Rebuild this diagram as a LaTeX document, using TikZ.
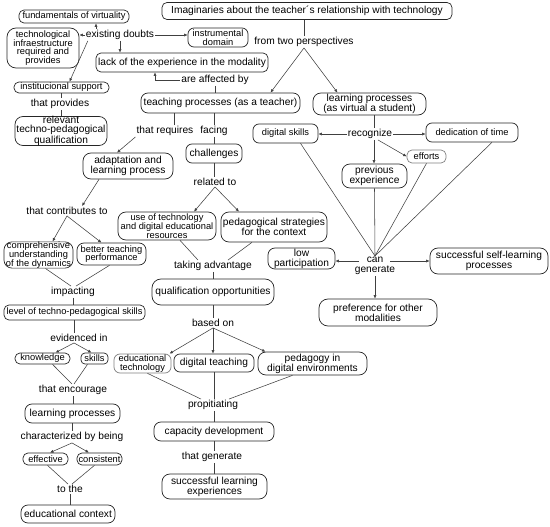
\documentclass[tikz,border=0pt]{standalone}
\usepackage{fontspec}
\setmainfont{Liberation Sans}
\usetikzlibrary{arrows.meta,calc}
\newcommand\fa{\fontsize{10.2}{10}\selectfont}
\newcommand\fb{\fontsize{9.3}{8.8}\selectfont}
\newcommand\fc{\fontsize{10.2}{9}\selectfont}
\begin{document}
\begin{tikzpicture}[x=1pt,y=-1pt,
 box/.style={draw=black!85, line width=0.7pt, rounded corners=5pt, align=center, inner sep=0pt, font=\fa},
 sm/.style={font=\fb},
 bx/.style 2 args={box, minimum width=#1, minimum height=#2},
 lbl/.style={inner sep=1pt, align=center, font=\fa},
 con/.style={draw=black!75, line width=0.55pt},
 arr/.style={con, -{Latex[length=3.5pt,width=3pt]}}]
\useasboundingbox (0,0) rectangle (550,527);
% boxes
\node[bx={110}{13},sm] (fund) at (74,16.5) {fundamentals of virtuality};
\node[bx={290}{17}] (imag) at (307,11) {Imaginaries about the teacher´s relationship with technology};
\node[bx={72}{40},sm,rounded corners=9pt] (tech) at (43,48) {technological\\infraestructure\\required and\\provides};
\node[bx={60}{19},sm,rounded corners=6pt] (instr) at (218,37.5) {instrumental\\domain};
\node[bx={172}{19}] (lack) at (182,62.5) {lack of the experience in the modality};
\node[bx={159}{20},rounded corners=7pt] (teach) at (220.5,103) {teaching processes (as a teacher)};
\node[bx={113}{22},rounded corners=8pt] (learn) at (369.5,104) {learning processes\\(as virtual a student)};
\node[bx={95}{11},sm] (inst) at (61.5,87.5) {institucional support};
\node[bx={92}{28},rounded corners=8pt,font=\fc] (relev) at (61,131) {relevant\\techno-pedagogical\\qualification};
\node[bx={90}{26},rounded corners=8pt] (adapt) at (128,166) {adaptation and\\learning process};
\node[bx={56}{19},rounded corners=6pt] (chal) at (214,153.5) {challenges};
\node[bx={98}{28},sm,rounded corners=8pt] (useoft) at (167,226) {use of technology\\and digital educational\\resources};
\node[bx={106}{30},rounded corners=8pt] (pedstr) at (274,227) {pedagogical strategies\\for the context};
\node[bx={69}{25},sm,rounded corners=8pt] (comp) at (38.5,255) {comprehensive\\understanding\\of the dynamics};
\node[bx={69}{22},sm,rounded corners=7pt] (better) at (111.5,254) {better teaching\\performance};
\node[bx={122}{26},rounded corners=9pt] (qual) at (213,292) {qualification opportunities};
\node[bx={67}{21},rounded corners=7pt] (lowp) at (301.5,258.5) {low\\participation};
\node[bx={118}{26},rounded corners=8pt] (sslp) at (489,261) {successful self-learning\\processes};
\node[bx={118}{27},rounded corners=9pt] (pref) at (378,312.5) {preference for other\\modalities};
\node[bx={65}{19},sm,rounded corners=6pt] (ds) at (285.5,133.5) {digital skills};
\node[bx={92}{19},sm,rounded corners=6pt] (dedic) at (472,132.5) {dedication of time};
\node[bx={39}{13},sm,draw=black!50] (effort) at (426.5,156.5) {efforts};
\node[bx={65}{24},rounded corners=8pt] (prevexp) at (374.5,176) {previous\\experience};
\node[bx={141}{15},sm] (level) at (74.5,312.5) {level of techno-pedagogical skills};
\node[bx={55}{11},sm] (know) at (42.5,358.5) {knowledge};
\node[bx={27}{11},sm,rounded corners=4pt] (skills) at (94.5,358.5) {skills};
\node[bx={57}{19},sm,draw=black!50,rounded corners=6pt] (edtech) at (142.5,363.5) {educational\\technology};
\node[bx={80}{18},rounded corners=6pt] (digteach) at (214,363) {digital teaching};
\node[bx={109}{23},rounded corners=8pt] (pedig) at (312.5,363.5) {pedagogy in\\digital environments};
\node[bx={95}{19},rounded corners=7pt] (learnp) at (72.5,413.5) {learning processes};
\node[bx={45}{12},sm] (effect) at (45.5,459) {effective};
\node[bx={45}{12},sm] (consist) at (99.5,459) {consistent};
\node[bx={94}{18},rounded corners=7pt] (edcont) at (68,514) {educational context};
\node[bx={120}{19},rounded corners=7pt] (capdev) at (214,431.5) {capacity development};
\node[bx={105}{25},rounded corners=8pt] (succ) at (214.5,486.5) {successful learning\\experiences};
% labels
\node[lbl] (exd) at (120,35) {existing doubts};
\node[lbl] (from2) at (304,42) {from two perspectives};
\node[lbl] (aff) at (215,80) {are affected by};
\node[lbl] (tprov) at (60,104) {that provides};
\node[lbl] (treq) at (165,131) {that requires};
\node[lbl] (facing) at (214,131) {facing};
\node[lbl] (rel) at (215,182) {related to};
\node[lbl] (contrib) at (67,211) {that contributes to};
\node[lbl] (takadv) at (213,266) {taking advantage};
\node[lbl] (cg) at (375,266) {can\\generate};
\node[lbl] (recog) at (370,134) {recognize};
\node[lbl] (impact) at (73,292) {impacting};
\node[lbl] (evid) at (79,338) {evidenced in};
\node[lbl] (based) at (213,323) {based on};
\node[lbl] (encour) at (73,390) {that encourage};
\node[lbl] (charac) at (72,437) {characterized by being};
\node[lbl] (tothe) at (70,489) {to the};
\node[lbl] (propit) at (213,405) {propitiating};
\node[lbl] (tgen) at (212,457) {that generate};
% connectors top
\draw[con] (from2.north) -- (from2.north |- imag.south);
\draw[arr] (from2.south) -- ($(teach.north)+(50,0)$);
\draw[arr] (from2.south) -- ($(learn.north)+(-32,0)$);
\draw[arr] (exd.west) -- (exd.west -| tech.east);
\coordinate (exdu) at ($(exd.north)+(-24,0)$);
\draw[arr] (exdu) -- (exdu |- fund.south);
\draw[arr] (exd.east) -- (exd.east -| instr.west);
\draw[arr] (exd.south) -- (exd.south |- lack.north);
\draw[arr] ($(exd.south west)+(3,0)$) -- ($(inst.north)+(8,0)$);
\draw[con] (aff.south) -- (aff.south |- teach.north);
\draw[arr] (aff.west) -| ($(lack.south)+(-27,0)$);
\draw[con] (inst.south) -- (inst.south |- tprov.north);
\draw[con] (inst.south |- tprov.south) -- (inst.south |- relev.north);
\coordinate (treqr) at ($(treq.north)+(9,0)$);
\draw[con] (treqr) -- (treqr |- teach.south);
\draw[arr] (treq.south west) -- ($(adapt.north)+(-11,0)$);
\draw[con] (facing.north) -- (facing.north |- teach.south);
\draw[con] (facing.south) -- (facing.south |- chal.north);
\draw[con] (chal.south) -- (chal.south |- rel.north);
\draw[arr] (rel.south) -- ($(useoft.north)+(27,0)$);
\draw[arr] (rel.south) -- ($(pedstr.north)+(-35,0)$);
\draw[arr] ($(adapt.south)+(-29,0)$) -- ($(contrib.north)+(15,0)$);
\draw[arr] (contrib.south) -- ($(comp.north)+(14,0)$);
\draw[arr] (contrib.south) -- ($(better.north)+(-10,0)$);
\draw[con] ($(useoft.south)+(13,0)$) -- ($(takadv.north)+(-15,0)$);
\draw[con] ($(pedstr.south)+(-22,0)$) -- ($(takadv.north)+(15,0)$);
\draw[con] (takadv.south) -- (takadv.south |- qual.north);
\draw[con] (qual.south) -- (qual.south |- based.north);
\draw[arr] (based.south) -- ($(edtech.north)+(27,0)$);
\draw[arr] (based.south) -- (based.south |- digteach.north);
\draw[arr] (based.south) -- ($(pedig.north)+(-47,0)$);
\draw[con] ($(edtech.south)+(5,0)$) -- ($(propit.north)+(-12,0)$);
\draw[con] (digteach.south) -- (digteach.south |- propit.north);
\draw[con] ($(pedig.south)+(-20,0)$) -- ($(propit.north)+(16,0)$);
\draw[con] (capdev.north |- propit.south) -- (capdev.north);
\draw[con] (capdev.south) -- (capdev.south |- tgen.north);
\draw[con] (capdev.south |- tgen.south) -- (capdev.south |- succ.north);
% left bottom
\draw[con] ($(comp.south)+(7,0)$) -- ($(impact.north)+(-2,0)$);
\draw[con] ($(better.south)+(-2,0)$) -- ($(impact.north)+(3,0)$);
\draw[con] (impact.south) -- (impact.south |- level.north);
\draw[con] (level.south) -- (level.south |- evid.north);
\draw[arr] ($(evid.south)+(-5,0)$) -- ($(know.north)+(13,0)$);
\draw[arr] ($(evid.south)+(-5,0)$) -- ($(skills.north)+(-3,0)$);
\draw[con] ($(know.south)+(10,0)$) -- ($(encour.north)+(-1,0)$);
\draw[con] ($(skills.south)+(-7,0)$) -- ($(encour.north)+(1,0)$);
\draw[con] (encour.south) -- (encour.south |- learnp.north);
\draw[con] (learnp.south) -- (learnp.south |- charac.north);
\draw[arr] (charac.south) -- ($(effect.north)+(4.5,0)$);
\draw[arr] (charac.south) -- ($(consist.north)+(-10.5,0)$);
\draw[con] ($(effect.south)+(2,0)$) -- ($(tothe.north)+(-2,0)$);
\draw[con] ($(consist.south)+(-5,0)$) -- ($(tothe.north)+(2,0)$);
\draw[con] (tothe.south) -- (tothe.south |- edcont.north);
% right
\coordinate (rx) at ($(recog.north)+(4,0)$);
\draw[con] (rx) -- (rx |- learn.south);
\draw[arr] (recog.west) -- (recog.west -| ds.east);
\draw[arr] (recog.east) -- (recog.east -| dedic.west);
\coordinate (rs) at ($(recog.south)+(4,0)$);
\draw[arr] (rs) -- (rs |- prevexp.north);
\draw[arr] ($(recog.south)+(8,0)$) -- (effort.west);
\draw[con] ($(ds.south)+(15,0)$) -- (cg.north);
\draw[con] (prevexp.south) -- (cg.north);
\draw[con] (effort.south) -- (cg.north);
\draw[con] ($(dedic.south)+(20,0)$) -- (cg.north);
\coordinate (cgl) at ($(cg.west |- sslp.west)+(5,0)$);
\draw[arr] (cgl) -- (cgl -| lowp.east);
\coordinate (cgr) at ($(cg.east |- sslp.west)+(-6,0)$);
\draw[arr] (cgr) -- (sslp.west);
\draw[arr] (cg.south) -- (cg.south |- pref.north);
\end{tikzpicture}
\end{document}
